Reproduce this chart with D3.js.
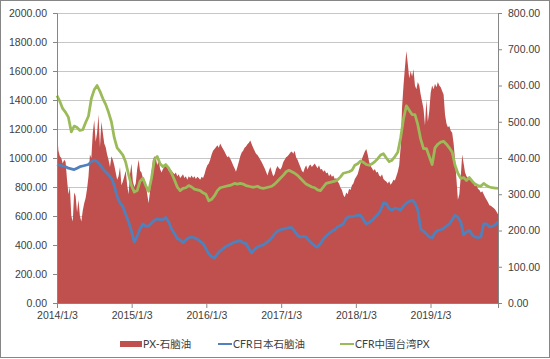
<!DOCTYPE html>
<html>
<head>
<meta charset="utf-8">
<script src="https://cdn.jsdelivr.net/npm/d3@7"></script>
<style>
  body { margin: 0; background: #fff; }
  svg { display: block; font-family: Lato, "Open Sans", sans-serif; }
  .axis text { fill: #404040; font-size: 10.5px; }
  .axis path, .axis line { stroke: #868686; }
</style>
</head>
<body>
<div id="chart"></div>
<script>
// categories
const startDate = "2014-01-03"
const yearTicks = ["2014-01-03", "2015-01-03", "2016-01-03", "2017-01-03", "2018-01-03", "2019-01-03"]
const leftTicks = [0, 200, 400, 600, 800, 1000, 1200, 1400, 1600, 1800, 2000]
const rightTicks = [0, 100, 200, 300, 400, 500, 600, 700, 800]
const seriesNames = ["PX-石脑油", "CFR日本石脑油", "CFR中国台湾PX"]

// PX-石脑油 spread, weekly, right axis
const spread = [
  470, 420, 405, 400, 385, 395, 390, 340, 300, 320, 240, 225, 305, 295, 250, 285, 240, 225, 255, 275,
  290, 315, 350, 410, 400, 470, 505, 445, 470, 520, 430, 500, 470, 440, 430, 410, 395, 375, 405, 395,
  380, 360, 340, 350, 375, 325, 335, 350, 365, 325, 300, 355, 385, 335, 320, 330, 370, 395, 365, 360,
  345, 335, 330, 300, 275, 310, 360, 395, 405, 400, 380, 395, 370, 360, 370, 375, 385, 375, 365, 370,
  365, 360, 355, 360, 350, 355, 345, 350, 355, 345, 350, 340, 350, 345, 352, 345, 350, 342, 348, 345,
  340, 348, 345, 355, 370, 380, 385, 395, 410, 420, 425, 430, 435, 428, 440, 432, 425, 418, 410, 402,
  405, 398, 390, 380, 372, 362, 375, 390, 405, 415, 420, 428, 432, 438, 442, 448, 438, 428, 420, 412,
  408, 402, 395, 388, 380, 372, 362, 352, 365, 375, 362, 350, 355, 370, 378, 372, 368, 375, 388, 395,
  402, 405, 410, 415, 418, 412, 420, 402, 395, 385, 375, 365, 360, 372, 380, 368, 378, 382, 375, 380,
  385, 378, 372, 380, 368, 370, 362, 366, 358, 360, 350, 356, 348, 352, 342, 345, 335, 330, 318, 312,
  298, 292, 305, 300, 315, 312, 325, 330, 342, 348, 355, 370, 385, 398, 408, 418, 425, 410, 390, 378,
  372, 365, 370, 360, 362, 352, 348, 355, 342, 338, 335, 330, 336, 326, 332, 340, 338, 350, 362, 380,
  430, 540, 600, 650, 695, 660, 620, 640, 625, 645, 600, 590, 610, 600, 575, 555, 535, 490, 560, 500,
  530, 580, 600, 590, 605, 595, 610, 600, 595, 585, 575, 520, 495, 485, 488, 475, 470, 440, 395, 340,
  285, 300, 350, 410, 385, 360, 350, 345, 340, 342, 335, 328, 322, 325, 315, 312, 305, 308, 300, 292,
  285, 278, 270, 268, 265, 262, 258, 252, 245
]

// CFR日本石脑油, biweekly, left axis
const naphtha = [
  955, 950, 945, 940, 930, 925, 920, 930, 940, 945, 950, 955, 975, 985, 975, 955, 925, 905, 885, 860,
  810, 735, 690, 665, 610, 560, 495, 420, 460, 510, 545, 530, 530, 550, 570, 580, 575, 575, 590, 560,
  510, 480, 445, 435, 415, 435, 450, 455, 450, 440, 425, 410, 375, 340, 320, 310, 340, 360, 375, 390,
  400, 410, 420, 425, 430, 415, 410, 375, 345, 370, 385, 395, 400, 415, 430, 450, 475, 495, 505, 510,
  515, 520, 520, 495, 465, 455, 460, 455, 430, 410, 395, 385, 410, 440, 460, 480, 495, 505, 525, 535,
  545, 585, 595, 595, 600, 605, 605, 575, 545, 555, 570, 590, 610, 640, 690, 685, 650, 640, 655, 650,
  640, 670, 690, 700, 710, 690, 640, 510, 495, 475, 455, 450, 485, 500, 505, 515, 530, 545, 575, 605,
  590, 560, 470, 490, 500, 470, 455, 450, 455, 545, 545, 525, 530, 540, 560
]

// CFR中国台湾PX, biweekly, left axis
const px = [
  1430, 1390, 1340, 1315, 1280, 1180, 1220, 1210, 1190, 1195, 1245, 1290, 1410, 1470, 1500, 1460, 1410, 1370, 1315, 1250,
  1140, 1070, 1045, 1020, 970, 885, 810, 765, 775, 840, 860, 810, 770, 860, 990, 1010, 960, 940, 955, 930,
  895, 850, 800, 775, 790, 795, 810, 800, 785, 780, 775, 760, 750, 705, 715, 740, 775, 795, 800, 805,
  810, 815, 825, 820, 825, 820, 810, 805, 800, 800, 805, 795, 790, 795, 800, 805, 820, 840, 860, 880,
  905, 915, 905, 895, 880, 860, 840, 820, 810, 800, 795, 780, 775, 800, 825, 830, 835, 840, 850, 870,
  895, 900, 905, 915, 950, 960, 980, 970, 955, 950, 960, 975, 995, 1020, 1030, 1000, 975, 985, 1010, 1040,
  1140, 1270, 1360, 1330, 1300, 1300, 1230, 1130, 1065, 1065, 1010, 955, 1070, 1095, 1110, 1115, 1095, 1070, 1040, 950,
  895, 860, 865, 845, 865, 840, 820, 810, 805, 825, 810, 800, 795, 793, 790
]

const width = 550, height = 359
const margin = {top: 13, right: 52, bottom: 56, left: 57}
const plotW = width - margin.left - margin.right,
      plotH = height - margin.top - margin.bottom

const parse = d3.timeParse("%Y-%m-%d")
const start = parse(startDate)
const weekDates = spread.map((d, i) => d3.timeDay.offset(start, 7 * i))
const biweekDates = px.map((d, i) => d3.timeDay.offset(start, 14 * i))

const x = d3.scaleTime()
  .domain([start, weekDates[weekDates.length - 1]])
  .range([0, plotW])
const yL = d3.scaleLinear().domain([0, 2000]).range([plotH, 0])
const yR = d3.scaleLinear().domain([0, 800]).range([plotH, 0])

const svg = d3.select("#chart").append("svg")
  .attr("width", width)
  .attr("height", height)

svg.append("rect")
  .attr("x", 0.5).attr("y", 0.5)
  .attr("width", width - 1).attr("height", height - 2)
  .style("fill", "#fff")
  .style("stroke", "#868686")

const g = svg.append("g")
  .attr("transform", "translate(" + margin.left + "," + margin.top + ")")

// gridlines
g.append("g")
  .attr("class", "grid")
  .call(d3.axisLeft(yL).tickValues(leftTicks.slice(1)).tickSize(-plotW).tickFormat(() => null))
  .call(s => s.select(".domain").remove())
  .selectAll("line").style("stroke", "#c6c6c6")

// spread area
const area = d3.area()
  .x((d, i) => x(weekDates[i]))
  .y0(plotH)
  .y1(d => yR(d))
g.append("path")
  .datum(spread)
  .attr("d", area)
  .style("fill", "#c0504d")

const line = d3.line()
  .x((d, i) => x(biweekDates[i]))
  .y(d => yL(d))

g.append("path")
  .datum(naphtha)
  .attr("d", line)
  .style("fill", "none")
  .style("stroke", "#4f81bd")
  .style("stroke-width", 2.75)
  .style("stroke-linejoin", "round")

g.append("path")
  .datum(px)
  .attr("d", line)
  .style("fill", "none")
  .style("stroke", "#9bbb59")
  .style("stroke-width", 2.75)
  .style("stroke-linejoin", "round")

// axes
g.append("g")
  .attr("class", "axis")
  .call(d3.axisLeft(yL).tickValues(leftTicks).tickSize(4).tickPadding(6).tickFormat(d3.format(".2f")))

g.append("g")
  .attr("class", "axis")
  .attr("transform", "translate(" + plotW + ",0)")
  .call(d3.axisRight(yR).tickValues(rightTicks).tickSize(4).tickPadding(6).tickFormat(d3.format(".2f")))

const fmtTick = d => d.getFullYear() + "/" + (d.getMonth() + 1) + "/" + d.getDate()
g.append("g")
  .attr("class", "axis")
  .attr("transform", "translate(0," + plotH + ")")
  .call(d3.axisBottom(x).tickValues(yearTicks.map(parse)).tickSize(5).tickPadding(4).tickFormat(fmtTick))

g.selectAll(".axis .domain").attr("d", function () { return d3.select(this).attr("d") })

// legend
const legend = svg.append("g").attr("transform", "translate(0,344)")
const legendItems = [
  {name: seriesNames[0], x: 120, type: "rect", color: "#c0504d"},
  {name: seriesNames[1], x: 218, type: "line", color: "#4f81bd"},
  {name: seriesNames[2], x: 340, type: "line", color: "#9bbb59"}
]
legendItems.forEach(it => {
  if (it.type === "rect") {
    legend.append("rect")
      .attr("x", it.x).attr("y", -3)
      .attr("width", 22).attr("height", 6)
      .style("fill", it.color)
  } else {
    legend.append("line")
      .attr("x1", it.x).attr("x2", it.x + 14)
      .attr("y1", 0).attr("y2", 0)
      .style("stroke", it.color)
      .style("stroke-width", 2)
  }
  legend.append("text")
    .attr("x", it.x + (it.type === "rect" ? 23 : 15))
    .attr("y", 0)
    .attr("dy", "0.35em")
    .style("font-size", "10.5px")
    .style("fill", "#404040")
    .style("font-family", "Lato, 'Noto Sans CJK SC', sans-serif")
    .text(it.name)
})
</script>
</body>
</html>
